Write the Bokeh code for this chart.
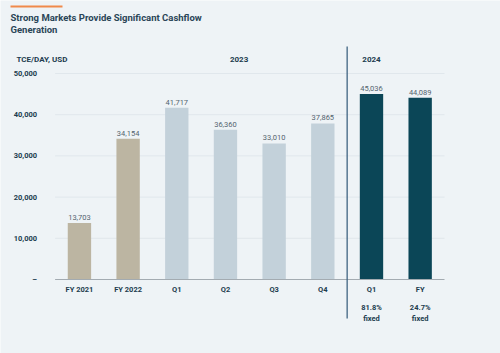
from bokeh.plotting import figure
from bokeh.models import Range1d, FixedTicker, Label, Arrow, ColumnDataSource
from bokeh.core.properties import value
from bokeh.embed import file_html
from bokeh.resources import INLINE

# ---------------- data ----------------
categories = ["FY 2021", "FY 2022", "Q1", "Q2", "Q3", "Q4", "Q1", "FY"]
periods = ["FY", "FY", "2023", "2023", "2023", "2023", "2024", "2024"]
tce_values = [13703, 34154, 41717, 36360, 33010, 37865, 45036, 44089]
notes = ["", "", "", "", "", "", "81.8%\nfixed", "24.7%\nfixed"]
period_headers = ["2023", "2024"]
y_ticks = [0, 10000, 20000, 30000, 40000, 50000]
y_tick_labels = ["–", "10,000", "20,000", "30,000", "40,000", "50,000"]
title_lines = ["Strong Markets Provide Significant Cashflow", "Generation"]
unit_label = "TCE/DAY, USD"

# ---------------- style / layout ----------------
W, H = 500, 353
BG = "#eef3f6"
DARK = "#213c4e"
VAL = "#53636e"
period_colors = {"FY": "#bcb5a2", "2023": "#c3d1da", "2024": "#0b4657"}
FONT = "Roboto"

n = len(categories)
# bar area spans 54.6px .. 444px ; baseline at 279px, 50,000 at 73px
unit_x = (444 - 54.6) / n
x_start = -0.5 - 54.6 / unit_x
x_end = n - 0.5 + (W - 444) / unit_x
unit_y = (279 - 73) / 50000
y_end = 279 / unit_y
y_start = -(H - 279) / unit_y

xs = list(range(n))
src = ColumnDataSource(dict(
    x=xs,
    value=tce_values,
    label=[f"{v:,}" for v in tce_values],
    cat=categories,
    note=notes,
    color=[period_colors[p] for p in periods],
))

p = figure(width=W, height=H, output_backend="svg", toolbar_location=None,
           x_range=Range1d(x_start, x_end), y_range=Range1d(y_start, y_end),
           x_axis_location=None,
           min_border=0, min_border_left=0, min_border_right=0,
           min_border_top=0, min_border_bottom=0,
           background_fill_color=BG, border_fill_color=BG,
           outline_line_color=None)

# y axis, pinned at the left edge of the bar area
p.yaxis.fixed_location = -0.5
p.yaxis.ticker = FixedTicker(ticks=y_ticks)
p.yaxis.major_label_overrides = {t: l for t, l in zip(y_ticks, y_tick_labels)}
p.yaxis.axis_line_color = None
p.yaxis.major_tick_line_color = None
p.yaxis.minor_tick_line_color = None
p.yaxis.major_label_standoff = 12
p.yaxis.major_label_text_font = FONT
p.yaxis.major_label_text_font_size = "7.5px"
p.yaxis.major_label_text_font_style = "bold"
p.yaxis.major_label_text_color = DARK
p.ygrid.visible = False
p.xgrid.visible = False

# gridlines over the bar area only
grid_y = y_ticks[1:]
p.segment(x0=[-0.5] * len(grid_y), y0=grid_y, x1=[n - 0.5] * len(grid_y), y1=grid_y,
          line_color="#e0e7ec", line_width=1)

# bars
p.vbar(x="x", top="value", width=0.48, fill_color="color", line_color=None, source=src)

# baseline
p.segment(x0=[-0.5], y0=[0], x1=[n - 0.5], y1=[0], line_color="#a3abb1", line_width=1)

# divider between 2023 and 2024 (from 46px to 318px)
div_x = periods.index("2024") - 0.5
p.segment(x0=[div_x], y0=[(279 - 318) / unit_y], x1=[div_x], y1=[(279 - 46) / unit_y],
          line_color="#3f6482", line_width=1.3)

# value labels
p.text(x="x", y="value", text="label", source=src, text_align="center",
       text_baseline="bottom", y_offset=-3, text_font=value(FONT),
       text_font_size="7.5px", text_color=VAL)

# category labels
p.text(x="x", y=0, text="cat", source=src, text_align="center",
       text_baseline="middle", y_offset=10, text_font=value(FONT),
       text_font_size="7.5px", text_font_style="bold", text_color=DARK)

# notes
p.text(x="x", y=0, text="note", source=src, text_align="center",
       text_baseline="top", y_offset=23, text_font=value(FONT),
       text_font_size="7.5px", text_font_style="bold", text_color=DARK,
       text_line_height=1.25)

# period headers (58.7px from top)
header_x = [3.28, periods.index("2024")]
p.text(x=header_x, y=[y_end, y_end], text=period_headers, text_align="center",
       text_baseline="middle", y_offset=58.7, text_font=value(FONT),
       text_font_size="8px", text_font_style="bold", text_color=DARK)

# texts / rule above the chart (screen units from bottom-left of the canvas)
p.add_layout(Label(x=16, y=H - 58.7, x_units="screen", y_units="screen",
                   text=unit_label, text_baseline="middle", text_font=FONT,
                   text_font_size="8px", text_font_style="bold", text_color=DARK))
p.add_layout(Label(x=10, y=H - 17, x_units="screen", y_units="screen",
                   text=title_lines[0], text_baseline="middle", text_font=FONT,
                   text_font_size="9.5px", text_font_style="bold", text_color="#2a4557"))
p.add_layout(Label(x=10, y=H - 28.5, x_units="screen", y_units="screen",
                   text=title_lines[1], text_baseline="middle", text_font=FONT,
                   text_font_size="9.5px", text_font_style="bold", text_color="#2a4557"))
p.add_layout(Arrow(x_start=10, y_start=H - 6, x_end=62, y_end=H - 6,
                   start_units="screen", end_units="screen", start=None, end=None,
                   line_color="#f08a4b", line_width=2))

open("out.html", "w").write(file_html(p, INLINE))
